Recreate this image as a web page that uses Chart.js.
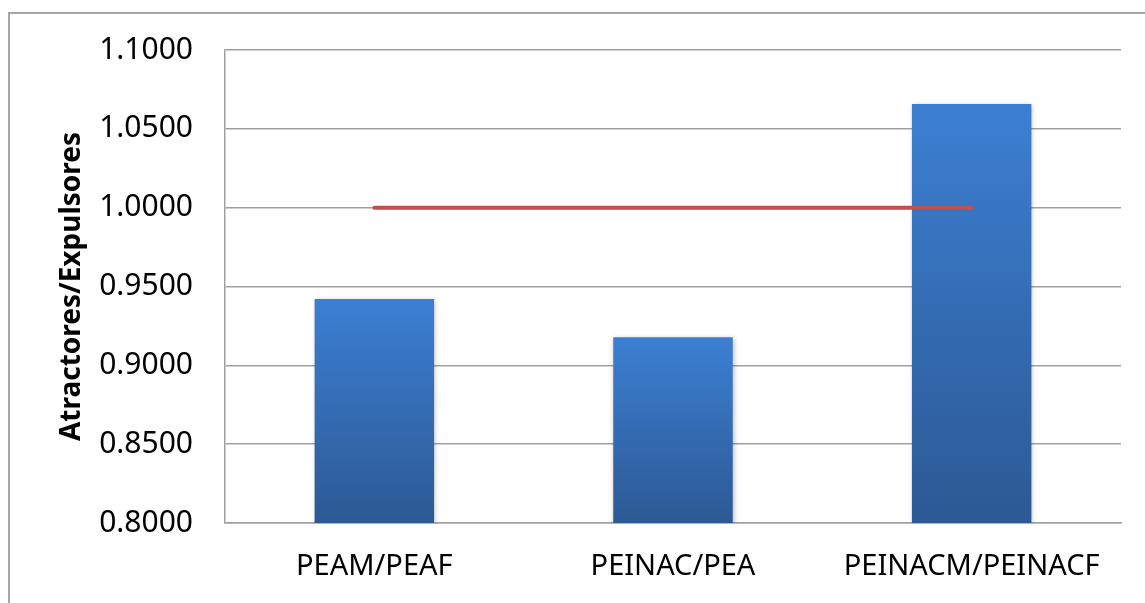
<!DOCTYPE html>
<html>
<head>
<meta charset="utf-8">
<script src="https://cdn.jsdelivr.net/npm/chart.js@4.4.1/dist/chart.umd.min.js"></script>
<style>
  html, body { margin: 0; padding: 0; background: #ffffff; }
  #wrap { position: relative; width: 1145px; height: 603px; overflow: hidden; }
  #frame { position: absolute; left: 8px; top: 12px; width: 1300px; height: 800px;
           border: 2px solid #a6a6a6; box-sizing: border-box; }
  canvas { position: absolute; left: 0; top: 0; }
</style>
</head>
<body>
<div id="wrap">
  <div id="frame"></div>
  <canvas id="chart" width="1145" height="603"></canvas>
</div>
<script>
// Ratio of attractors to expellers per population pair
const categories = ['PEAM/PEAF', 'PEINAC/PEA', 'PEINACM/PEINACF'];
const ratios = [0.9420, 0.9178, 1.0657];
// Equilibrium reference (ratio = 1)
const equilibrium = [1.0, 1.0, 1.0];
const axisTitle = 'Atractores/Expulsores';
const yMin = 0.8, yMax = 1.1, yStep = 0.05;

const FONT = '"Noto Sans", "Open Sans", sans-serif';

// Vertical gradient for each bar, from its own top down to the baseline
function barGradient(ctx) {
  const chart = ctx.chart;
  const area = chart.chartArea;
  if (!area) return '#3a78c8';
  const yScale = chart.scales.y;
  const top = yScale.getPixelForValue(ctx.raw);
  const g = chart.ctx.createLinearGradient(0, top, 0, area.bottom);
  g.addColorStop(0, '#3c7fd2');
  g.addColorStop(1, '#2c5994');
  return g;
}

// Soft drop shadow under the bars
const barShadow = {
  id: 'barShadow',
  beforeDatasetDraw(chart, args) {
    if (args.meta.type !== 'bar') return;
    const c = chart.ctx;
    c.save();
    c.shadowColor = 'rgba(0,0,0,0.28)';
    c.shadowBlur = 5;
    c.shadowOffsetX = 1;
    c.shadowOffsetY = 1;
  },
  afterDatasetDraw(chart, args) {
    if (args.meta.type !== 'bar') return;
    chart.ctx.restore();
  }
};

new Chart(document.getElementById('chart'), {
  data: {
    labels: categories,
    datasets: [
      {
        type: 'line',
        data: equilibrium,
        borderColor: '#c0504d',
        borderWidth: 4,
        borderCapStyle: 'round',
        pointRadius: 0,
        pointHoverRadius: 0,
        tension: 0,
        order: 0
      },
      {
        type: 'bar',
        data: ratios,
        backgroundColor: barGradient,
        borderWidth: 0,
        categoryPercentage: 1.0,
        barPercentage: 0.4,
        order: 1
      }
    ]
  },
  plugins: [barShadow],
  options: {
    responsive: false,
    animation: false,
    devicePixelRatio: 1,
    layout: { padding: { left: 55, right: 24, top: 49, bottom: 0 } },
    plugins: {
      legend: { display: false },
      tooltip: { enabled: false }
    },
    scales: {
      x: {
        type: 'category',
        offset: true,
        grid: { display: false, drawTicks: false },
        border: { display: true, color: '#a0a0a0', width: 1.5 },
        ticks: {
          color: '#000000',
          padding: 26,
          maxRotation: 0,
          font: { family: FONT, size: 29 }
        },
        afterFit(scale) { scale.height = 80; }
      },
      y: {
        type: 'linear',
        min: yMin,
        max: yMax,
        grid: { color: '#a0a0a0', lineWidth: 1.5, drawTicks: false },
        border: { display: true, color: '#a0a0a0', width: 1.5 },
        ticks: {
          stepSize: yStep,
          color: '#000000',
          padding: 32,
          font: { family: FONT, size: 30 },
          callback: (v) => Number(v).toFixed(4)
        },
        title: {
          display: true,
          text: axisTitle,
          color: '#000000',
          padding: { top: 0, bottom: 0 },
          font: { family: FONT, size: 28, weight: 'bold' }
        },
        afterFit(scale) { scale.width = 170; }
      }
    }
  }
});
</script>
</body>
</html>
